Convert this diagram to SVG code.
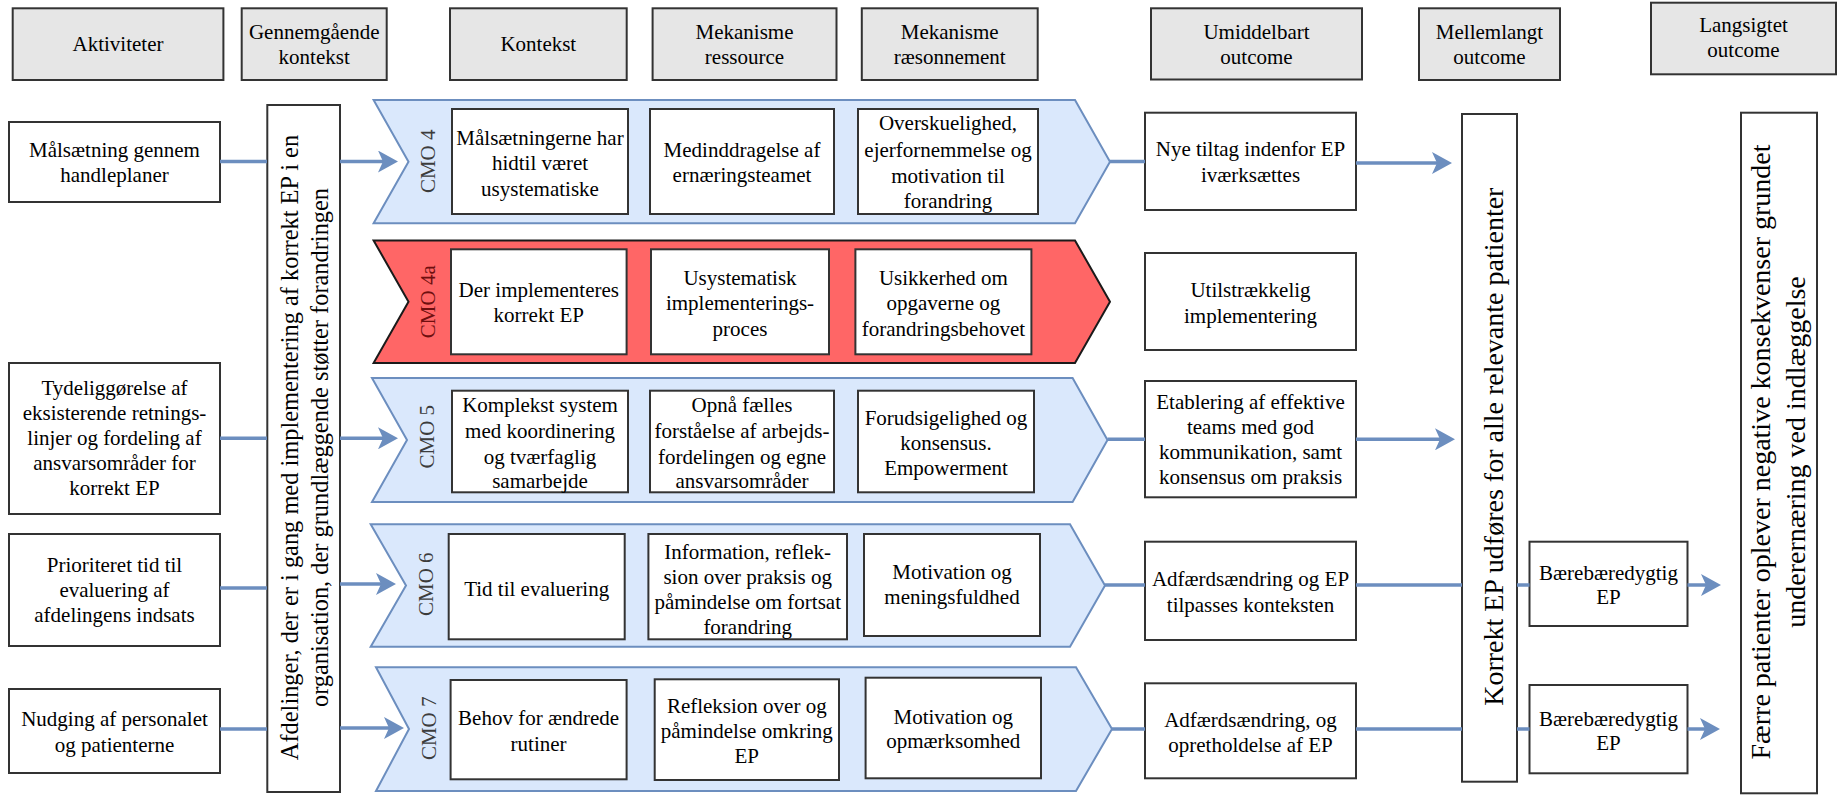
<svg xmlns="http://www.w3.org/2000/svg" width="1842" height="795" viewBox="0 0 1842 795">
  <defs>
    <style>
      .hdr { fill: #e6e6e6; stroke: #333; stroke-width: 2; }
      .box { fill: #ffffff; stroke: #333; stroke-width: 2; }
      .cmo { fill: #dae8fc; stroke: #6c8ebf; stroke-width: 2; }
      .cmo-red { fill: #ff6666; stroke: #1a1a1a; stroke-width: 2; }
      .t { font-family: "Liberation Serif", "Times New Roman", serif; font-size: 21px; text-anchor: middle; fill: #000; }
      .lbl { font-family: "Liberation Serif", "Times New Roman", serif; font-size: 21px; text-anchor: middle; fill: #3c3c3c; }
      .lbl-red { fill: #6e0f0f; }
      .big { font-size: 28px; }
      .edge { fill: none; stroke: #6c8ebf; stroke-width: 3.5; }
    </style>
    <marker id="arrow" markerUnits="userSpaceOnUse" markerWidth="20" markerHeight="22" viewBox="0 0 20 22" refX="5" refY="11" orient="auto">
      <path d="M0,0 L20,11 L0,22 L5,11 Z" fill="#6c8ebf"/>
    </marker>
  </defs>

  <!-- column headers -->
  <g id="hdr-aktiviteter">
    <rect class="hdr" x="12.7" y="8.3" width="210.7" height="71.7"/>
    <text class="t" x="118" y="51.2">Aktiviteter</text>
  </g>
  <g id="hdr-gennemgaaende">
    <rect class="hdr" x="241.7" y="8.3" width="145" height="71.7"/>
    <text class="t"><tspan x="314.2" y="38.6">Gennemgående</tspan><tspan x="314.2" y="63.8">kontekst</tspan></text>
  </g>
  <g id="hdr-kontekst">
    <rect class="hdr" x="450" y="8.3" width="176.7" height="71.7"/>
    <text class="t" x="538.3" y="51.2">Kontekst</text>
  </g>
  <g id="hdr-ressource">
    <rect class="hdr" x="652.6" y="8.3" width="183.9" height="71.7"/>
    <text class="t"><tspan x="744.5" y="38.6">Mekanisme</tspan><tspan x="744.5" y="63.8">ressource</tspan></text>
  </g>
  <g id="hdr-raesonnement">
    <rect class="hdr" x="861.8" y="8.3" width="175.9" height="71.7"/>
    <text class="t"><tspan x="949.7" y="38.6">Mekanisme</tspan><tspan x="949.7" y="63.8">ræsonnement</tspan></text>
  </g>
  <g id="hdr-umiddelbart">
    <rect class="hdr" x="1151" y="8.3" width="211" height="71.2"/>
    <text class="t"><tspan x="1256.5" y="38.6">Umiddelbart</tspan><tspan x="1256.5" y="63.8">outcome</tspan></text>
  </g>
  <g id="hdr-mellemlangt">
    <rect class="hdr" x="1419" y="8.3" width="141" height="71.7"/>
    <text class="t"><tspan x="1489.5" y="38.6">Mellemlangt</tspan><tspan x="1489.5" y="63.8">outcome</tspan></text>
  </g>
  <g id="hdr-langsigtet">
    <rect class="hdr" x="1651" y="2.7" width="185" height="71.6"/>
    <text class="t"><tspan x="1743.5" y="31.9">Langsigtet</tspan><tspan x="1743.5" y="57.1">outcome</tspan></text>
  </g>

  <!-- activities -->
  <g id="akt-maalsaetning">
    <rect class="box" x="9" y="122" width="211" height="80"/>
    <text class="t"><tspan x="114.5" y="156.9">Målsætning gennem</tspan><tspan x="114.5" y="182.1">handleplaner</tspan></text>
  </g>
  <g id="akt-tydeliggoerelse">
    <rect class="box" x="9" y="363" width="211" height="151"/>
    <text class="t"><tspan x="114.5" y="395.3">Tydeliggørelse af</tspan><tspan x="114.5" y="420.3">eksisterende retnings-</tspan><tspan x="114.5" y="445.3">linjer og fordeling af</tspan><tspan x="114.5" y="470.3">ansvarsområder for</tspan><tspan x="114.5" y="495.3">korrekt EP</tspan></text>
  </g>
  <g id="akt-prioriteret">
    <rect class="box" x="9" y="534" width="211" height="112"/>
    <text class="t"><tspan x="114.5" y="571.8">Prioriteret tid til</tspan><tspan x="114.5" y="597">evaluering af</tspan><tspan x="114.5" y="622.2">afdelingens indsats</tspan></text>
  </g>
  <g id="akt-nudging">
    <rect class="box" x="9" y="689" width="211" height="84"/>
    <text class="t"><tspan x="114.5" y="726.4">Nudging af personalet</tspan><tspan x="114.5" y="751.6">og patienterne</tspan></text>
  </g>

  <!-- overall context -->
  <g id="gennemgaaende-kontekst">
    <rect class="box" x="267.3" y="105" width="72.7" height="687"/>
    <text class="t" style="font-size:24.4px" transform="translate(303.7 447.5) rotate(-90)"><tspan x="0" y="-5.5">Afdelinger, der er i gang med implementering af korrekt EP i en</tspan><tspan x="0" y="24.5">organisation, der grundlæggende støtter forandringen</tspan></text>
  </g>

  <!-- CMO 4 -->
  <g id="cmo4">
    <polygon class="cmo" points="373.6,100 1075,100 1110,161.7 1075,223.3 373.6,223.3 408.5,161.7"/>
    <text class="lbl" transform="translate(435 161.3) rotate(-90)" x="0" y="0">CMO 4</text>
    <rect class="box" x="452" y="109" width="176" height="105"/>
    <text class="t"><tspan x="540" y="145.1">Målsætningerne har</tspan><tspan x="540" y="170.3">hidtil været</tspan><tspan x="540" y="195.5">usystematiske</tspan></text>
    <rect class="box" x="650" y="109" width="184" height="105"/>
    <text class="t"><tspan x="742" y="156.9">Medinddragelse af</tspan><tspan x="742" y="182.1">ernæringsteamet</tspan></text>
    <rect class="box" x="858" y="109" width="180" height="105"/>
    <text class="t"><tspan x="948" y="130.3">Overskuelighed,</tspan><tspan x="948" y="157">ejerfornemmelse og</tspan><tspan x="948" y="183">motivation til</tspan><tspan x="948" y="208">forandring</tspan></text>
  </g>

  <!-- CMO 4a -->
  <g id="cmo4a">
    <polygon class="cmo-red" points="373.6,240.5 1075,240.5 1110,301.7 1075,363 373.6,363 408.5,301.7"/>
    <text class="lbl lbl-red" transform="translate(435 301.7) rotate(-90)" x="0" y="0">CMO 4a</text>
    <rect class="box" x="451" y="249.3" width="175.6" height="105"/>
    <text class="t"><tspan x="538.8" y="296.9">Der implementeres</tspan><tspan x="538.8" y="322.1">korrekt EP</tspan></text>
    <rect class="box" x="651" y="249.3" width="178" height="105"/>
    <text class="t"><tspan x="740" y="285.1">Usystematisk</tspan><tspan x="740" y="310.3">implementerings-</tspan><tspan x="740" y="335.5">proces</tspan></text>
    <rect class="box" x="855.4" y="249.3" width="176" height="105"/>
    <text class="t"><tspan x="943.4" y="285.1">Usikkerhed om</tspan><tspan x="943.4" y="310.3">opgaverne og</tspan><tspan x="943.4" y="335.5">forandringsbehovet</tspan></text>
  </g>

  <!-- CMO 5 -->
  <g id="cmo5">
    <polygon class="cmo" points="372,378 1072.6,378 1107.5,440 1072.6,502 372,502 407,440"/>
    <text class="lbl" transform="translate(434 436.7) rotate(-90)" x="0" y="0">CMO 5</text>
    <rect class="box" x="452" y="390.7" width="176" height="101.6"/>
    <text class="t"><tspan x="540" y="412">Komplekst system</tspan><tspan x="540" y="437.7">med koordinering</tspan><tspan x="540" y="463.7">og tværfaglig</tspan><tspan x="540" y="487.7">samarbejde</tspan></text>
    <rect class="box" x="650" y="390.7" width="184" height="101.6"/>
    <text class="t"><tspan x="742" y="412">Opnå fælles</tspan><tspan x="742" y="437.7">forståelse af arbejds-</tspan><tspan x="742" y="463.7">fordelingen og egne</tspan><tspan x="742" y="487.7">ansvarsområder</tspan></text>
    <rect class="box" x="858" y="390.7" width="176" height="101.6"/>
    <text class="t"><tspan x="946" y="425.3">Forudsigelighed og</tspan><tspan x="946" y="449.7">konsensus.</tspan><tspan x="946" y="475.3">Empowerment</tspan></text>
  </g>

  <!-- CMO 6 -->
  <g id="cmo6">
    <polygon class="cmo" points="370.7,524.3 1070,524.3 1105,585.5 1070,646.7 370.7,646.7 406,585.5"/>
    <text class="lbl" transform="translate(433 584.2) rotate(-90)" x="0" y="0">CMO 6</text>
    <rect class="box" x="448.7" y="534" width="176" height="105.3"/>
    <text class="t" x="536.7" y="596.3">Tid til evaluering</text>
    <rect class="box" x="648.4" y="534" width="198.6" height="105.3"/>
    <text class="t"><tspan x="747.7" y="558.7">Information, reflek-</tspan><tspan x="747.7" y="583.7">sion over praksis og</tspan><tspan x="747.7" y="608.7">påmindelse om fortsat</tspan><tspan x="747.7" y="633.7">forandring</tspan></text>
    <rect class="box" x="864" y="534" width="176" height="102"/>
    <text class="t"><tspan x="952" y="579.3">Motivation og</tspan><tspan x="952" y="604.3">meningsfuldhed</tspan></text>
  </g>

  <!-- CMO 7 -->
  <g id="cmo7">
    <polygon class="cmo" points="376,667.3 1076,667.3 1112,729 1076,791 376,791 409,729"/>
    <text class="lbl" transform="translate(436 728.3) rotate(-90)" x="0" y="0">CMO 7</text>
    <rect class="box" x="450.6" y="680" width="176" height="99.3"/>
    <text class="t"><tspan x="538.6" y="725.3">Behov for ændrede</tspan><tspan x="538.6" y="751">rutiner</tspan></text>
    <rect class="box" x="654.7" y="679.3" width="184.3" height="100.7"/>
    <text class="t"><tspan x="746.8" y="712.7">Refleksion over og</tspan><tspan x="746.8" y="737.7">påmindelse omkring</tspan><tspan x="746.8" y="763">EP</tspan></text>
    <rect class="box" x="865.6" y="677.7" width="175.4" height="100.6"/>
    <text class="t"><tspan x="953.3" y="724.3">Motivation og</tspan><tspan x="953.3" y="748">opmærksomhed</tspan></text>
  </g>

  <!-- immediate outcomes -->
  <g id="out-nye-tiltag">
    <rect class="box" x="1145" y="112.7" width="211" height="97.3"/>
    <text class="t"><tspan x="1250.5" y="156.3">Nye tiltag indenfor EP</tspan><tspan x="1250.5" y="182">iværksættes</tspan></text>
  </g>
  <g id="out-utilstraekkelig">
    <rect class="box" x="1145" y="253" width="211" height="97"/>
    <text class="t"><tspan x="1250.5" y="297">Utilstrækkelig</tspan><tspan x="1250.5" y="323">implementering</tspan></text>
  </g>
  <g id="out-etablering">
    <rect class="box" x="1145" y="381" width="211" height="116.3"/>
    <text class="t"><tspan x="1250.5" y="408.7">Etablering af effektive</tspan><tspan x="1250.5" y="433.7">teams med god</tspan><tspan x="1250.5" y="458.7">kommunikation, samt</tspan><tspan x="1250.5" y="483.7">konsensus om praksis</tspan></text>
  </g>
  <g id="out-adfaerd-tilpasses">
    <rect class="box" x="1145" y="541.7" width="211" height="98.3"/>
    <text class="t"><tspan x="1250.5" y="586.3">Adfærdsændring og EP</tspan><tspan x="1250.5" y="612">tilpasses konteksten</tspan></text>
  </g>
  <g id="out-adfaerd-opretholdelse">
    <rect class="box" x="1145" y="683.3" width="211" height="95"/>
    <text class="t"><tspan x="1250.5" y="727">Adfærdsændring, og</tspan><tspan x="1250.5" y="752">opretholdelse af EP</tspan></text>
  </g>

  <!-- intermediate outcomes -->
  <g id="korrekt-ep">
    <rect class="box" x="1462" y="114" width="55" height="667.7"/>
    <text class="t big" transform="translate(1489.5 446.7) rotate(-90)" x="0" y="13.5">Korrekt EP udføres for alle relevante patienter</text>
  </g>
  <g id="baeredygtig-1">
    <rect class="box" x="1529.5" y="541.7" width="158" height="84.3"/>
    <text class="t"><tspan x="1608.5" y="579.7">Bærebæredygtig</tspan><tspan x="1608.5" y="603.7">EP</tspan></text>
  </g>
  <g id="baeredygtig-2">
    <rect class="box" x="1529.5" y="685" width="158" height="88.3"/>
    <text class="t"><tspan x="1608.5" y="726.3">Bærebæredygtig</tspan><tspan x="1608.5" y="750.3">EP</tspan></text>
  </g>

  <!-- long-term outcome -->
  <g id="faerre-patienter">
    <rect class="box" x="1741" y="112.7" width="76" height="680.6"/>
    <text class="t big" transform="translate(1779 452) rotate(-90)"><tspan x="0" y="-9">Færre patienter oplever negative konsekvenser grundet</tspan><tspan x="0" y="26">underernæring ved indlæggelse</tspan></text>
  </g>

  <!-- connectors -->
  <g id="connectors">
    <path class="edge" d="M220,161.5 H267"/>
    <path class="edge" d="M340,161.5 H383" marker-end="url(#arrow)"/>
    <path class="edge" d="M220,438.3 H267"/>
    <path class="edge" d="M340,438.3 H383" marker-end="url(#arrow)"/>
    <path class="edge" d="M220,588 H267"/>
    <path class="edge" d="M340,584 H381" marker-end="url(#arrow)"/>
    <path class="edge" d="M220,729 H267"/>
    <path class="edge" d="M340,728 H389" marker-end="url(#arrow)"/>

    <path class="edge" d="M1110,161.5 H1145"/>
    <path class="edge" d="M1356,163 H1437" marker-end="url(#arrow)"/>
    <path class="edge" d="M1107.5,439.3 H1145"/>
    <path class="edge" d="M1356,439.3 H1440" marker-end="url(#arrow)"/>
    <path class="edge" d="M1105,585 H1145"/>
    <path class="edge" d="M1356,585 H1462"/>
    <path class="edge" d="M1517,585 H1529.5"/>
    <path class="edge" d="M1687.5,585 H1706" marker-end="url(#arrow)"/>
    <path class="edge" d="M1112,729 H1145"/>
    <path class="edge" d="M1356,729 H1462"/>
    <path class="edge" d="M1517,729 H1529.5"/>
    <path class="edge" d="M1687.5,729 H1705" marker-end="url(#arrow)"/>
  </g>
</svg>
